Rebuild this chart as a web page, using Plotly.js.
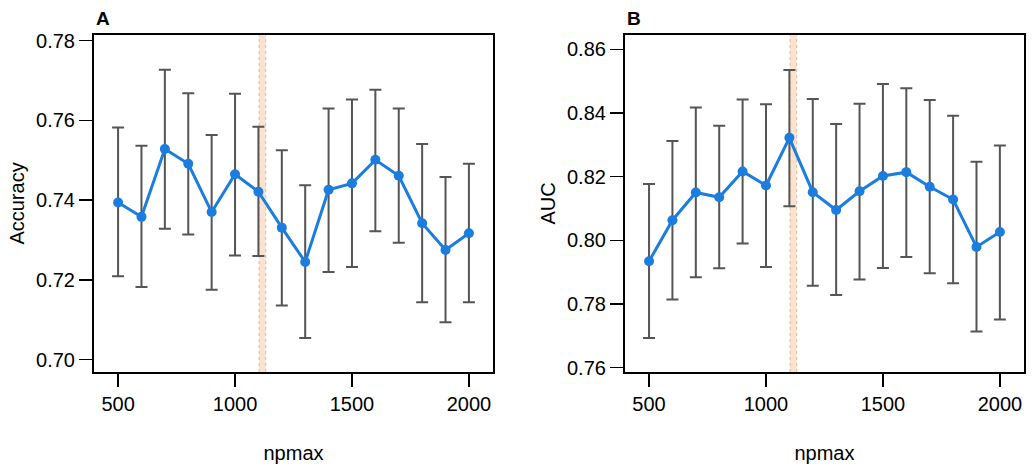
<!DOCTYPE html>
<html>
<head>
<meta charset="utf-8">
<script src="https://cdn.plot.ly/plotly-3.0.1.min.js"></script>
<style>
  html, body { margin: 0; padding: 0; background: #fff; }
  #chart { width: 1034px; height: 471px; }
</style>
</head>
<body>
<div id="chart"></div>
<script>
// ---- data ----
const npmax = [500, 600, 700, 800, 900, 1000, 1100, 1200, 1300, 1400, 1500, 1600, 1700, 1800, 1900, 2000];

const accMean  = [0.7394, 0.7358, 0.7528, 0.7491, 0.7370, 0.7465, 0.7421, 0.7331, 0.7245, 0.7426, 0.7442, 0.7501, 0.7461, 0.7342, 0.7275, 0.7317];
const accUpper = [0.7582, 0.7536, 0.7727, 0.7668, 0.7563, 0.7667, 0.7584, 0.7525, 0.7437, 0.7630, 0.7652, 0.7677, 0.7630, 0.7541, 0.7458, 0.7491];
const accLower = [0.7209, 0.7182, 0.7328, 0.7314, 0.7175, 0.7261, 0.7260, 0.7136, 0.7054, 0.7220, 0.7232, 0.7322, 0.7293, 0.7144, 0.7094, 0.7144];

const aucMean  = [0.7934, 0.8063, 0.8150, 0.8135, 0.8216, 0.8172, 0.8322, 0.8151, 0.8095, 0.8154, 0.8202, 0.8214, 0.8168, 0.8128, 0.7979, 0.8026];
const aucUpper = [0.8177, 0.8312, 0.8417, 0.8360, 0.8442, 0.8427, 0.8535, 0.8444, 0.8365, 0.8429, 0.8491, 0.8478, 0.8441, 0.8391, 0.8247, 0.8298];
const aucLower = [0.7693, 0.7814, 0.7884, 0.7912, 0.7990, 0.7916, 0.8107, 0.7857, 0.7828, 0.7877, 0.7913, 0.7947, 0.7896, 0.7865, 0.7713, 0.7751];

// selected npmax band
const bandRange = [1103, 1131];

const xTicks = [500, 1000, 1500, 2000];
const accTicks = [0.70, 0.72, 0.74, 0.76, 0.78];
const aucTicks = [0.76, 0.78, 0.80, 0.82, 0.84, 0.86];

// ---- styling ----
const BLUE = '#1a7ddf';
const BAR = '#555555';
const FONT = 'Liberation Sans, Arial, Helvetica, sans-serif';

// error bars go in their own trace so the line sits on top
function errTrace(mean, upper, lower, xa, ya) {
    return {
        x: npmax, y: mean, xaxis: xa, yaxis: ya,
        type: 'scatter', mode: 'markers',
        marker: { size: 1, color: 'rgba(0,0,0,0)' },
        error_y: {
            type: 'data', symmetric: false,
            array: upper.map((u, i) => u - mean[i]),
            arrayminus: lower.map((l, i) => mean[i] - l),
            color: BAR, thickness: 2, width: 6
        },
        hoverinfo: 'skip', showlegend: false
    };
}

function lineTrace(mean, xa, ya) {
    return {
        x: npmax, y: mean, xaxis: xa, yaxis: ya,
        type: 'scatter', mode: 'lines+markers',
        line: { color: BLUE, width: 3 },
        marker: { color: BLUE, size: 10 },
        showlegend: false
    };
}

function xAxis(domain, anchor) {
    return {
        domain: domain, anchor: anchor,
        range: [397, 2103],
        tickmode: 'array', tickvals: xTicks, ticktext: xTicks.map(String),
        ticks: 'outside', ticklen: 13, tickwidth: 1.5, tickcolor: '#000',
        showline: true, mirror: true, linecolor: '#000', linewidth: 2,
        showgrid: false, zeroline: false,
        tickfont: { family: FONT, size: 20, color: '#000' },
        title: { text: 'npmax', font: { family: FONT, size: 20, color: '#000' }, standoff: 32 }
    };
}

function yAxis(domain, anchor, range, ticks, label) {
    return {
        domain: domain, anchor: anchor,
        range: range,
        tickmode: 'array', tickvals: ticks, ticktext: ticks.map(v => v.toFixed(2)),
        ticks: 'outside', ticklen: 13, tickwidth: 1.5, tickcolor: '#000',
        showline: true, mirror: true, linecolor: '#000', linewidth: 2,
        showgrid: false, zeroline: false,
        tickfont: { family: FONT, size: 20, color: '#000' },
        title: { text: label, font: { family: FONT, size: 20, color: '#000' }, standoff: 6 }
    };
}

function band(xref) {
    const yref = xref.replace('x', 'y') + ' domain';
    return [
        { type: 'rect', xref: xref, yref: yref,
          x0: bandRange[0], x1: bandRange[1], y0: 0, y1: 1,
          fillcolor: '#f9e2cf', line: { width: 0 }, layer: 'below' },
        { type: 'line', xref: xref, yref: yref,
          x0: bandRange[0], x1: bandRange[0], y0: 0, y1: 1,
          line: { color: '#f5bf93', width: 1.2, dash: 'dot' }, layer: 'below' },
        { type: 'line', xref: xref, yref: yref,
          x0: bandRange[1], x1: bandRange[1], y0: 0, y1: 1,
          line: { color: '#f5bf93', width: 1.2, dash: 'dot' }, layer: 'below' }
    ];
}

const yDom = [0.2102, 0.9257];

const data = [
    errTrace(accMean, accUpper, accLower, 'x', 'y'),
    lineTrace(accMean, 'x', 'y'),
    errTrace(aucMean, aucUpper, aucLower, 'x2', 'y2'),
    lineTrace(aucMean, 'x2', 'y2')
];

const layout = {
    width: 1034, height: 471,
    margin: { l: 0, r: 0, t: 0, b: 0 },
    paper_bgcolor: '#fff', plot_bgcolor: '#fff',
    font: { family: FONT, color: '#000' },
    xaxis: xAxis([0.0909, 0.4768], 'y'),
    yaxis: yAxis(yDom, 'x', [0.6969, 0.7814], accTicks, 'Accuracy'),
    xaxis2: xAxis([0.6044, 0.9903], 'y2'),
    yaxis2: yAxis(yDom, 'x2', [0.7586, 0.8645], aucTicks, 'AUC'),
    shapes: band('x').concat(band('x2')),
    annotations: [
        { text: '<b>A</b>', xref: 'paper', yref: 'paper', x: 0.0909, y: 0.9257,
          xanchor: 'left', yanchor: 'bottom', yshift: 4, showarrow: false,
          font: { family: FONT, size: 19, color: '#000' } },
        { text: '<b>B</b>', xref: 'paper', yref: 'paper', x: 0.6044, y: 0.9257,
          xanchor: 'left', yanchor: 'bottom', yshift: 4, showarrow: false,
          font: { family: FONT, size: 19, color: '#000' } }
    ]
};

Plotly.newPlot('chart', data, layout, { displayModeBar: false, staticPlot: true });
</script>
</body>
</html>
